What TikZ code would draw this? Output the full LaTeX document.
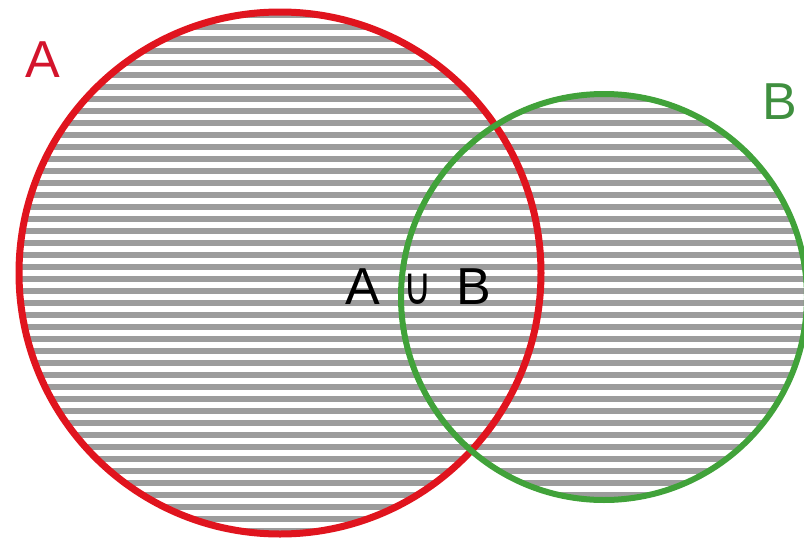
\documentclass[tikz,border=0pt]{standalone}
\usepackage{fontspec}
\setmainfont{Liberation Sans}
\newfontfamily\opfont{DejaVu Sans}
\usetikzlibrary{positioning}
\definecolor{setA}{HTML}{E0141E}
\definecolor{setB}{HTML}{41A23A}
\definecolor{hatch}{HTML}{9C9C9C}
\definecolor{labA}{HTML}{D3142C}
\definecolor{labB}{HTML}{3F8F3F}

\begin{document}
\begin{tikzpicture}[x=1pt, y=-1pt,
    ring/.style={line width=7pt},
    lab/.style={inner sep=0pt, font=\fontsize{52}{60}\selectfont}]
  \useasboundingbox (0,0) rectangle (804,541);

  % hatching of the union
  \begin{scope}
    \clip (280,273) circle (261pt) (604,297) circle (203pt);
    \foreach \k in {-17,...,28}
      \fill[hatch] (0,204+12*\k) rectangle (804,210+12*\k);
  \end{scope}

  % the two sets
  \draw[ring, setA] (280,273) circle (261pt);
  \draw[ring, line width=6pt, setB] (604,297) circle (203pt);

  % labels
  \node[lab, text=labA] (labelA) at (43,60) {A};
  \node[lab, text=labB] (labelB) at (780,102) {B};
  \node[lab] (union) at (418,287)
    {A\hspace{24pt}{\opfont\fontsize{30}{36}\selectfont\scalebox{1.3}[1.75]{∪}}\hspace{24pt}B};
\end{tikzpicture}
\end{document}
